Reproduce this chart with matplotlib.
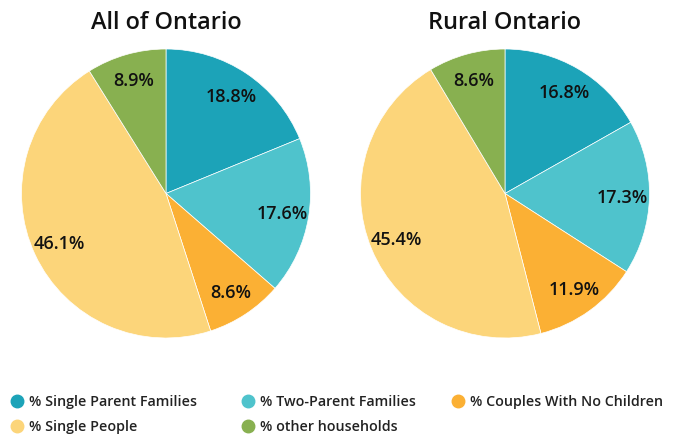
import matplotlib.pyplot as plt
from matplotlib.lines import Line2D

plt.rcParams['font.family'] = ['Open Sans', 'DejaVu Sans']

categories = ['% Single Parent Families', '% Two-Parent Families', '% Couples With No Children',
              '% Single People', '% other households']
all_ontario = [18.8, 17.6, 8.6, 46.1, 8.9]
rural_ontario = [16.8, 17.3, 11.9, 45.4, 8.6]
titles = ['All of Ontario', 'Rural Ontario']
colors = ['#1ca3b8', '#4fc3cc', '#fbb034', '#fcd57a', '#88b050']


def draw_pie(ax, values):
    ax.pie(values, colors=colors, startangle=90, counterclock=False,
           autopct='%.1f%%', pctdistance=0.815,
           wedgeprops={'edgecolor': 'white', 'linewidth': 0.5},
           textprops={'fontsize': 13, 'fontweight': 'semibold', 'color': '#111111'})
    ax.set_xlim(-1, 1)
    ax.set_ylim(-1, 1)
    ax.set_aspect('equal')
    ax.axis('off')


def main():
    W, H = 680, 435
    fig = plt.figure(figsize=(W / 100, H / 100), dpi=100)

    r = 144.5
    cy = 194.5
    for cx, values, title in [(166, all_ontario, titles[0]), (505, rural_ontario, titles[1])]:
        ax = fig.add_axes([(cx - r) / W, (H - cy - r) / H, 2 * r / W, 2 * r / H])
        draw_pie(ax, values)
        fig.text(cx / W, 1 - 29 / H, title, fontsize=16.9, fontweight='semibold',
                 color='#111111', ha='center', va='baseline')

    # Legend: two rows along the bottom
    positions = [(17, 402), (248, 402), (458, 402), (17, 427), (248, 427)]
    for i, (x, y) in enumerate(positions):
        fig.add_artist(Line2D([x / W], [1 - y / H], marker='o', markersize=9,
                              color=colors[i], linestyle='none', transform=fig.transFigure))
        fig.text((x + 12) / W, 1 - y / H, categories[i], fontsize=10.3, fontweight='semibold',
                 color='#222222', va='center', ha='left')

    fig.savefig('out.png', dpi=100)


if __name__ == "__main__":
    main()
